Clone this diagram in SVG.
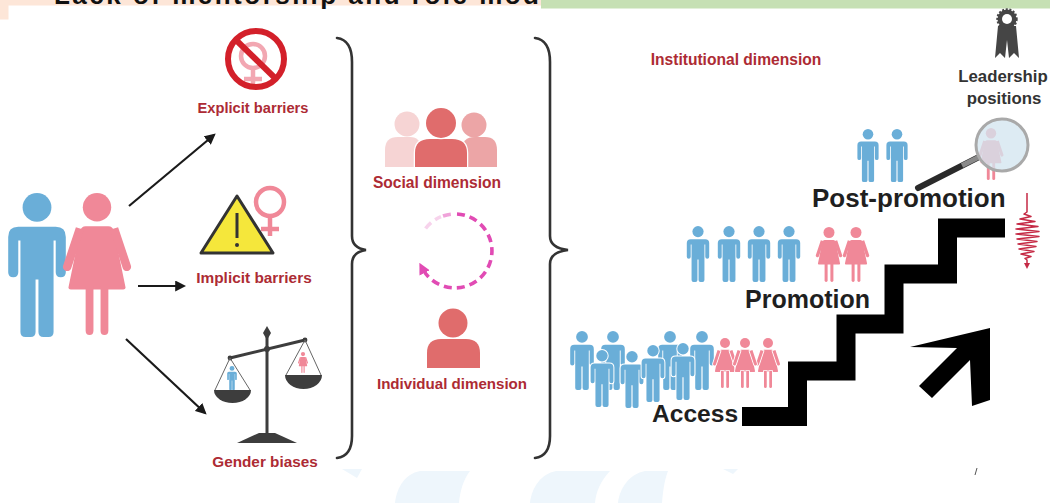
<svg xmlns="http://www.w3.org/2000/svg" xmlns:xlink="http://www.w3.org/1999/xlink" width="1050" height="503" viewBox="0 0 1050 503">
  <style>
    .lbl { font-family: "Liberation Sans", Arial, sans-serif; font-weight: bold; fill: #ad2b34; text-anchor: middle; }
    .big { font-family: "Liberation Sans", Arial, sans-serif; font-weight: bold; fill: #1f1f1f; }
    .lead { font-family: "Liberation Sans", Arial, sans-serif; font-weight: bold; fill: #333; text-anchor: middle; font-size: 16.8px; }
    .blue { fill: #6aaed8; }
    .pink { fill: #f08898; }
    .cut { stroke: #fff; stroke-width: 3.5; paint-order: stroke; }
    .conn { stroke: #1a1a1a; stroke-width: 2.2; fill: none; marker-end: url(#ah); }
    .brace { stroke: #333; stroke-width: 2.6; fill: none; stroke-linecap: round; }
    .ink { fill: #3d3d3d; }
  </style>
  <defs>
    <marker id="ah" viewBox="0 0 10 10" refX="8" refY="5" markerWidth="5" markerHeight="5" orient="auto">
      <path d="M0,0 L10,5 L0,10 Z" fill="#1a1a1a"/>
    </marker>
    <marker id="cyc" viewBox="0 0 10 10" refX="5" refY="5" markerWidth="3.2" markerHeight="3.2" orient="auto">
      <path d="M0,0 L10,5 L0,10 Z" fill="#e14bb4"/>
    </marker>
    <marker id="sig" viewBox="0 0 10 10" refX="5" refY="5" markerWidth="4" markerHeight="4" orient="auto">
      <path d="M0,0 L10,5 L0,10 Z" fill="#c52a45"/>
    </marker>
    <!-- pictogram man, 100 units tall, centred on x=0 -->
    <g id="man">
      <circle cx="0" cy="10" r="10"/>
      <path d="M-13,23.5 H13 Q20,23.5 20,30.5 V55 Q20,58.5 16.5,58.5 Q13,58.5 13,55 V33 H11.5 V96.5 Q11.5,100 8,100 H4.5 Q1,100 1,96.5 V60 H-1 V96.5 Q-1,100 -4.5,100 H-8 Q-11.5,100 -11.5,96.5 V33 H-13 V55 Q-13,58.5 -16.5,58.5 Q-20,58.5 -20,55 V30.5 Q-20,23.5 -13,23.5 Z"/>
    </g>
    <!-- pictogram woman, 100 units tall, centred on x=0 -->
    <g id="woman">
      <circle cx="0" cy="10" r="10"/>
      <path d="M-8,23.5 H8 Q11,23.5 12,27 L20,66 Q20.5,68 18.5,68 H-18.5 Q-20.5,68 -20,66 L-12,27 Q-11,23.5 -8,23.5 Z"/>
      <path d="M-9.15,25.95 L-14.85,24.05 L-23.85,51.05 A3,3 0 0 0 -18.15,52.95 Z"/>
      <path d="M9.15,25.95 L14.85,24.05 L23.85,51.05 A3,3 0 0 1 18.15,52.95 Z"/>
      <path d="M-8,66 H-2.5 V97 Q-2.5,100 -5.25,100 Q-8,100 -8,97 Z"/>
      <path d="M2.5,66 H8 V97 Q8,100 5.25,100 Q2.5,100 2.5,97 Z"/>
    </g>
  </defs>

  <rect width="1050" height="503" fill="#fff"/>

  <!-- title strip at the top edge -->
  <g id="title">
    <rect x="0" y="0" width="541" height="5.5" fill="#fde6d8"/>
    <rect x="0" y="0" width="8.5" height="19.5" fill="#fde6d8"/>
    <text x="54" y="3.5" font-family="'Liberation Sans', Arial, sans-serif" font-weight="bold" font-size="26" fill="#111" textLength="485">Lack of mentorship and role mod</text>
    <rect x="541" y="0" width="509" height="8.5" fill="#c6e0b4"/>
  </g>

  <!-- faint watermark at the bottom -->
  <g id="watermark" fill="#eef6fc">
    <path d="M342,469 L362,469 L357,478 Z"/>
    <path d="M395,503 C397,487 405,474 420,471 L470,471 C463,480 460,492 459,503 Z"/>
    <path d="M530,503 C532,487 541,474 556,471 L610,471 C600,482 596,492 595,503 Z"/>
    <path d="M618,503 C620,487 630,474 645,471 L668,471 C664,482 663,492 662,503 Z"/>
    <path d="M723,469 L738,469 L733,474 Z"/>
  </g>
  <path d="M977,468 L975,475" stroke="#555" stroke-width="1"/>

  <!-- connectors -->
  <g id="connectors">
    <line class="conn" x1="129" y1="206" x2="214" y2="135"/>
    <line class="conn" x1="138" y1="286" x2="184" y2="286"/>
    <line class="conn" x1="126" y1="339" x2="205" y2="413"/>
    <path class="brace" d="M337,38 Q352,40 352,62 L352,236 Q352,248 366,250 Q352,252 352,264 L352,436 Q352,456 337,458"/>
    <path class="brace" d="M535,38 Q550,40 550,62 L550,236 Q550,248 568,250 Q550,252 550,264 L550,436 Q550,456 535,458"/>
  </g>

  <!-- man and woman -->
  <g id="people">
    <use href="#man" class="blue" transform="translate(37,193) scale(1.44)"/>
    <use href="#woman" class="pink" transform="translate(97,193) scale(1.42)"/>
  </g>

  <!-- explicit barriers -->
  <g id="explicit">
    <g fill="none" stroke="#f2a7b2" stroke-width="4.5">
      <circle cx="253" cy="56" r="12"/>
      <line x1="253" y1="68" x2="253" y2="86"/>
      <line x1="244" y1="79" x2="262" y2="79"/>
    </g>
    <circle cx="256" cy="59" r="28" fill="none" stroke="#d3202a" stroke-width="6"/>
    <line x1="236" y1="40" x2="276" y2="79" stroke="#d3202a" stroke-width="6"/>
    <text class="lbl" x="253" y="113" font-size="14.7">Explicit barriers</text>
  </g>

  <!-- implicit barriers -->
  <g id="implicit">
    <path d="M237,196 L273,253 L201,253 Z" fill="#f5e73b" stroke="#333" stroke-width="3" stroke-linejoin="round"/>
    <line x1="237" y1="213" x2="237" y2="238" stroke="#333" stroke-width="3"/>
    <circle cx="237" cy="245" r="2" fill="#333"/>
    <g fill="none" stroke="#f08898" stroke-width="4.5">
      <circle cx="270" cy="202" r="14"/>
      <line x1="270" y1="216" x2="270" y2="236"/>
      <line x1="261" y1="229" x2="279" y2="229"/>
    </g>
    <text class="lbl" x="254" y="283" font-size="15.4">Implicit barriers</text>
  </g>

  <!-- gender biases: balance scale -->
  <g id="gender">
    <rect class="ink" x="265.5" y="333" width="3" height="102"/>
    <path class="ink" d="M267,326 L271,333 L267,340 L263,333 Z"/>
    <line x1="230" y1="358" x2="305" y2="340" stroke="#3d3d3d" stroke-width="3"/>
    <circle class="ink" cx="267" cy="349" r="3"/>
    <circle class="ink" cx="230" cy="358" r="2.4"/>
    <circle class="ink" cx="305" cy="340" r="2.4"/>
    <g stroke="#666" stroke-width="1">
      <line x1="230" y1="358" x2="215" y2="390"/>
      <line x1="230" y1="358" x2="250" y2="390"/>
      <line x1="305" y1="340" x2="286" y2="375"/>
      <line x1="305" y1="340" x2="321" y2="375"/>
    </g>
    <use href="#man" class="blue" transform="translate(232,366) scale(0.24)"/>
    <use href="#woman" class="pink" transform="translate(303,352) scale(0.21)"/>
    <path class="ink" d="M214,390 H251 A18.5,13 0 0 1 214,390 Z"/>
    <path class="ink" d="M285,375 H322 A18.5,14 0 0 1 285,375 Z"/>
    <path class="ink" d="M259,433 L275,433 L297,443 L237,443 Z"/>
    <text class="lbl" x="265" y="467" font-size="15.3">Gender biases</text>
  </g>

  <!-- social dimension -->
  <g id="social">
    <circle cx="407" cy="124" r="12.5" fill="#f6d4d4"/>
    <path d="M385,167 V150 Q385,137 398,137 H410 Q421,137 421,150 V167 Z" fill="#f6d4d4"/>
    <circle cx="474" cy="125" r="12.5" fill="#eca5a6"/>
    <path d="M462,167 V150 Q462,137 475,137 H485 Q497,137 497,150 V167 Z" fill="#eca5a6"/>
    <path d="M415,167 V153 Q415,139 430,139 H452 Q467,139 467,153 V167 Z" fill="#e06c6c" stroke="#fff" stroke-width="2.5" paint-order="stroke"/>
    <circle cx="441" cy="123" r="15" fill="#e06c6c" stroke="#fff" stroke-width="2.5" paint-order="stroke"/>
    <text class="lbl" x="437" y="188" font-size="15.6">Social dimension</text>
  </g>

  <!-- cycle between the dimensions -->
  <g id="cycle" fill="none" stroke-width="3.6" stroke-dasharray="8 5">
    <path d="M425.6,228.5 A37,37 0 0 1 441,216.6" stroke="#f7d3ec"/>
    <path d="M443,216 A37,37 0 0 1 455,214" stroke="#f0a3da"/>
    <path d="M457,214 A37,37 0 1 1 422,267.8" stroke="#e14bb4" marker-end="url(#cyc)"/>
  </g>

  <!-- individual dimension -->
  <g id="individual">
    <path d="M427,368 V353 Q427,339 441,339 H466 Q480,339 480,353 V368 Z" fill="#e06c6c"/>
    <circle cx="453" cy="323" r="14.5" fill="#e06c6c" stroke="#fff" stroke-width="2.5" paint-order="stroke"/>
    <text class="lbl" x="452" y="389" font-size="15.1">Individual dimension</text>
  </g>

  <!-- institutional dimension -->
  <g id="institutional">
    <text class="lbl" x="736" y="65" font-size="15.6">Institutional dimension</text>
  </g>

  <!-- staircase and rising arrow -->
  <g id="stairs">
    <polyline points="742,416.5 797.5,416.5 797.5,371 846,371 846,324 894,324 894,274 947.5,274 947.5,228 1005,228" fill="none" stroke="#000" stroke-width="19" stroke-linejoin="miter"/>
    <polygon points="910,347 990,328 990,400 972,406 970,360 932,398 919,386 957,348" fill="#000"/>
  </g>

  <!-- access level -->
  <g id="access">
    <use href="#man" class="blue" transform="translate(582,331) scale(0.59)"/>
    <use href="#man" class="blue" transform="translate(613,331) scale(0.59)"/>
    <use href="#man" class="blue" transform="translate(670,331) scale(0.59)"/>
    <use href="#man" class="blue" transform="translate(702,331) scale(0.59)"/>
    <use href="#man" class="blue cut" transform="translate(602,350) scale(0.57)"/>
    <use href="#man" class="blue cut" transform="translate(632,351) scale(0.57)"/>
    <use href="#man" class="blue cut" transform="translate(653,345) scale(0.57)"/>
    <use href="#man" class="blue cut" transform="translate(683,343) scale(0.57)"/>
    <use href="#woman" class="pink cut" transform="translate(725,338) scale(0.5)"/>
    <use href="#woman" class="pink cut" transform="translate(768,338) scale(0.5)"/>
    <use href="#woman" class="pink cut" transform="translate(745,338) scale(0.5)"/>
    <text class="big" x="652" y="422" font-size="24.6">Access</text>
  </g>

  <!-- promotion level -->
  <g id="promotion">
    <use href="#man" class="blue" transform="translate(698,226) scale(0.56)"/>
    <use href="#man" class="blue" transform="translate(729,226) scale(0.56)"/>
    <use href="#man" class="blue" transform="translate(759,226) scale(0.56)"/>
    <use href="#man" class="blue" transform="translate(789,226) scale(0.56)"/>
    <use href="#woman" class="pink" transform="translate(829,227) scale(0.55)"/>
    <use href="#woman" class="pink" transform="translate(856,227) scale(0.55)"/>
    <text class="big" x="745" y="308" font-size="25">Promotion</text>
  </g>

  <!-- post-promotion level -->
  <g id="postpromotion">
    <use href="#man" class="blue" transform="translate(868,129) scale(0.53)"/>
    <use href="#man" class="blue" transform="translate(897,129) scale(0.53)"/>
    <use href="#woman" class="pink" transform="translate(991,128) scale(0.52)"/>
    <line x1="918" y1="188" x2="977" y2="158" stroke="#2a2a2a" stroke-width="6" stroke-linecap="round"/>
    <line x1="962" y1="165.5" x2="978" y2="157.5" stroke="#8a8a8a" stroke-width="5"/>
    <circle cx="1002" cy="145" r="26" fill="#d3e5ef" fill-opacity="0.78" stroke="#a9a9a9" stroke-width="3"/>
    <text class="big" x="812" y="207" font-size="26">Post-promotion</text>
  </g>

  <!-- leadership positions -->
  <g id="leadership">
    <path d="M998,26 L1016,26 L1019,58 L1014,53 L1009,58 L1007,40 L1005,58 L1000,53 L995,58 Z" fill="#454545"/>
    <circle cx="1007" cy="19" r="9.5" fill="#454545" stroke="#454545" stroke-width="2.4" stroke-dasharray="2 1.6"/>
    <circle cx="1007" cy="19" r="5" fill="#fff"/>
    <text class="lead" x="1003" y="82">Leadership</text>
    <text class="lead" x="1004" y="104">positions</text>
  </g>

  <!-- fluctuating signal -->
  <g id="signal">
    <polyline points="1027,193 1027,212 1024,214 1031,216.5 1020,219 1035,221.5 1017,224 1038,226.5 1016,229 1039,231.5 1016,234 1039,236.5 1017,239 1037,241.5 1018,244 1036,246.5 1019,249 1034,251.5 1021,254 1031,256.5 1025,258.5 1027,260 1027,266" fill="none" stroke="#c52a45" stroke-width="1.5" stroke-linejoin="round" marker-end="url(#sig)"/>
  </g>
</svg>
